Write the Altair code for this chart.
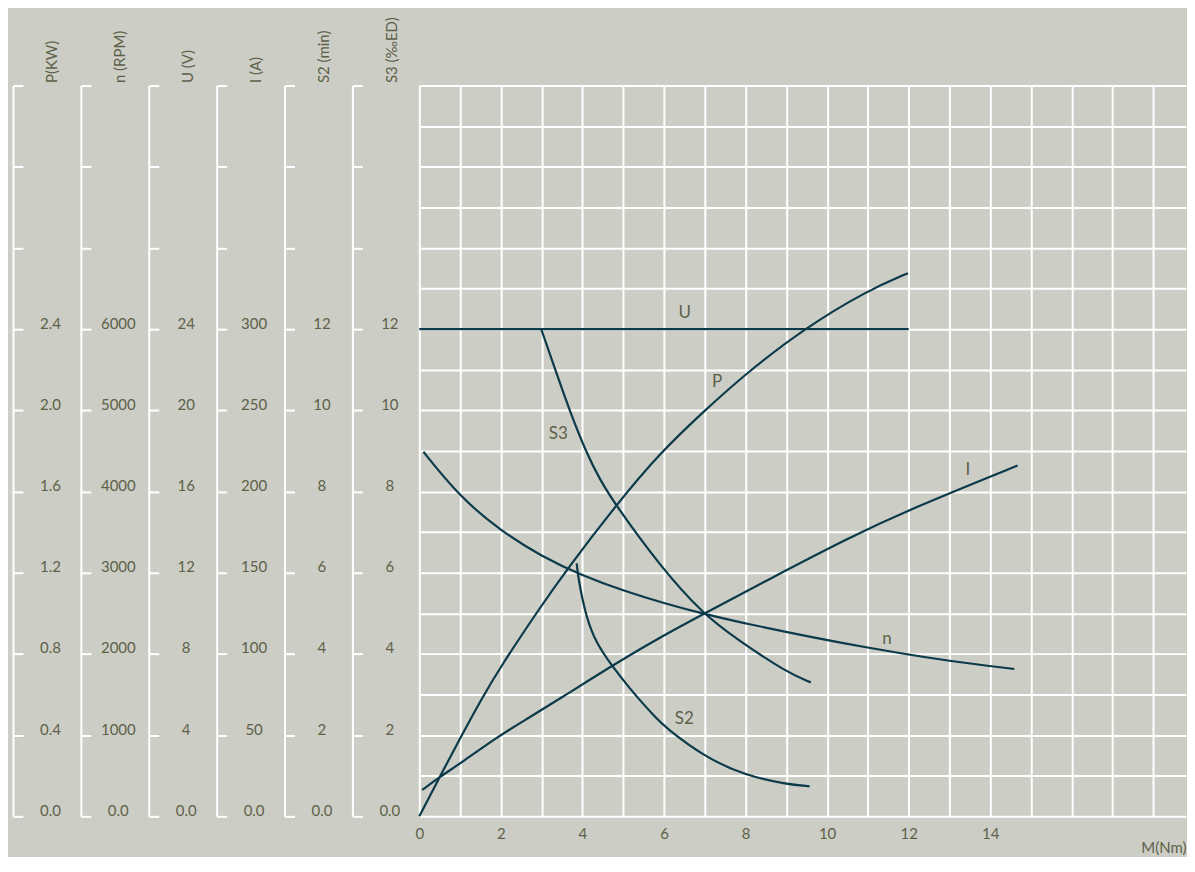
import json
import altair as alt
import pandas as pd

BG = "#cccdc5"
TEXT = "#5d6148"
LINE = "#0b3a4b"
FONT = "Lato"

# ---- curves: x = torque M (Nm), y in shared grid units (0..18, = S3 scale) ----
U_X = [0.0, 12.0]
U_Y = [12.0, 12.0]

P_X = [0.0, 0.5, 1.0, 1.5, 2.0, 3.0, 3.61, 4.82, 5.9, 7.0, 8.0, 9.41, 11.0, 11.98]
P_Y = [0.0, 0.97, 1.92, 2.85, 3.7, 5.2, 6.07, 7.66, 8.95, 10.0, 10.9, 12.0, 12.96, 13.38]

I_X = [0.07, 0.5, 1.0, 1.98, 2.64, 3.45, 4.72, 5.9, 6.96, 8.5, 10.55, 12.0, 14.67]
I_Y = [0.65, 0.97, 1.3, 2.0, 2.4, 2.9, 3.71, 4.41, 4.98, 5.8, 6.87, 7.55, 8.64]

N_X = [0.1, 1.0, 2.0, 3.0, 4.0, 5.0, 6.0, 7.0, 8.0, 9.0, 10.3, 12.0, 13.0, 14.0, 14.59]
N_Y = [8.98, 7.86, 7.03, 6.4, 5.93, 5.56, 5.25, 4.98, 4.75, 4.54, 4.28, 3.98, 3.83, 3.70, 3.63]

S3_X = [2.99, 3.3, 3.7, 4.1, 4.43, 4.82, 5.9, 6.96, 7.78, 9.0, 9.6]
S3_Y = [12.0, 11.1, 9.95, 8.95, 8.29, 7.66, 6.17, 4.98, 4.37, 3.55, 3.3]

S2_X = [3.86, 3.9, 4.1, 4.35, 4.72, 5.17, 5.41, 5.78, 6.02, 7.0, 7.98, 9.0, 9.57]
S2_Y = [6.23, 5.84, 4.86, 4.25, 3.71, 3.14, 2.86, 2.45, 2.2, 1.46, 1.01, 0.79, 0.74]

CURVES = {"U": (U_X, U_Y), "P": (P_X, P_Y), "I": (I_X, I_Y),
          "n": (N_X, N_Y), "S3": (S3_X, S3_Y), "S2": (S2_X, S2_Y)}

CURVE_LABELS = ["U", "P", "S3", "I", "n", "S2"]
CURVE_LABEL_X = [6.51, 7.3, 3.41, 13.45, 11.47, 6.5]
CURVE_LABEL_Y = [12.39, 10.71, 9.42, 8.54, 4.37, 2.4]

# ---- scales / axes ----
X_DOMAIN = [0, 18.8]
Y_DOMAIN = [0, 18]
X_GRID = list(range(0, 19))
Y_GRID = list(range(0, 19))
X_LABELS = [0, 2, 4, 6, 8, 10, 12, 14]
AXIS_TICKS = [0, 2, 4, 6, 8, 10, 12, 14, 16, 18]

AXIS_NAMES = ["P(KW)", "n (RPM)", "U (V)", "I (A)", "S2 (min)", "S3 (‰ED)"]
AXIS_LABELS = [
    ["0.0", "0.4", "0.8", "1.2", "1.6", "2.0", "2.4"],
    ["0.0", "1000", "2000", "3000", "4000", "5000", "6000"],
    ["0.0", "4", "8", "12", "16", "20", "24"],
    ["0.0", "50", "100", "150", "200", "250", "300"],
    ["0.0", "2", "4", "6", "8", "10", "12"],
    ["0.0", "2", "4", "6", "8", "10", "12"],
]

W_MAIN = 768
H = 732

rows = []
for name, (xs, ys) in CURVES.items():
    for i, (xv, yv) in enumerate(zip(xs, ys)):
        rows.append({"series": name, "x": xv, "y": yv, "i": i})
curves_df = pd.DataFrame(rows)
labels_df = pd.DataFrame({"label": CURVE_LABELS, "x": CURVE_LABEL_X, "y": CURVE_LABEL_Y})

xscale = alt.Scale(domain=X_DOMAIN, nice=False, zero=False)
yscale = alt.Scale(domain=Y_DOMAIN, nice=False, zero=False)

x_axis = alt.Axis(
    values=X_GRID,
    labelExpr=f"indexof({json.dumps(X_LABELS)}, datum.value) >= 0 ? datum.label : ''",
    grid=True, gridColor="white", gridWidth=2, gridOpacity=1,
    ticks=False, domain=False, labelPadding=10, labelFontSize=15,
    labelColor=TEXT, labelFont=FONT, labelFlush=False, labelOverlap=False,
    title="M(Nm)", titleX=W_MAIN, titleY=31, titleAlign="right",
    titleBaseline="middle", titleFontWeight="normal", titleFontSize=15,
    titleColor=TEXT, titleFont=FONT,
)
y_axis = alt.Axis(
    values=Y_GRID, grid=True, gridColor="white", gridWidth=2, gridOpacity=1,
    labels=False, ticks=False, domain=False,
)

lines = alt.Chart(curves_df).mark_line(
    interpolate="basis", strokeWidth=2.2, color=LINE
).encode(
    x=alt.X("x:Q", scale=xscale, axis=x_axis),
    y=alt.Y("y:Q", scale=yscale, axis=y_axis, title=None),
    detail="series:N",
    order="i:Q",
)
texts = alt.Chart(labels_df).mark_text(
    font=FONT, fontSize=17, color=TEXT, align="center", baseline="middle"
).encode(
    x=alt.X("x:Q", scale=xscale),
    y=alt.Y("y:Q", scale=yscale),
    text="label:N",
)
main = alt.layer(lines, texts).properties(width=W_MAIN, height=H)

axis_df = pd.DataFrame({"v": [Y_DOMAIN[0], Y_DOMAIN[1]]})
panels = []
for name, labs in zip(AXIS_NAMES, AXIS_LABELS):
    ax = alt.Axis(
        orient="right", values=AXIS_TICKS,
        labelExpr=f"{json.dumps(labs)}[datum.value / 2] || ''",
        grid=False, domain=True, domainColor="white", domainWidth=2,
        ticks=True, tickColor="white", tickWidth=2, tickSize=10,
        labelPadding=27, labelAlign="center", labelBaseline="middle",
        labelOffset=-6, labelFontSize=15, labelColor=TEXT, labelFont=FONT,
        labelFlush=False, labelOverlap=False,
        title=name, titleAngle=270, titleX=39, titleY=-3, titleAlign="left",
        titleBaseline="middle", titleFontSize=15, titleFontWeight="normal",
        titleColor=TEXT, titleFont=FONT,
    )
    p = alt.Chart(axis_df).mark_point(size=0, opacity=0, strokeWidth=0).encode(
        y=alt.Y("v:Q", scale=yscale, axis=ax)
    ).properties(width=1, height=H)
    panels.append(p)

chart = alt.hconcat(*panels, main, spacing=67, bounds="flush").configure_view(
    stroke="transparent"
).properties(
    background=BG,
    padding={"left": 3, "top": 7, "right": 0, "bottom": 0},
)

chart.save("out.html", embed_options={"renderer": "svg", "actions": False})
